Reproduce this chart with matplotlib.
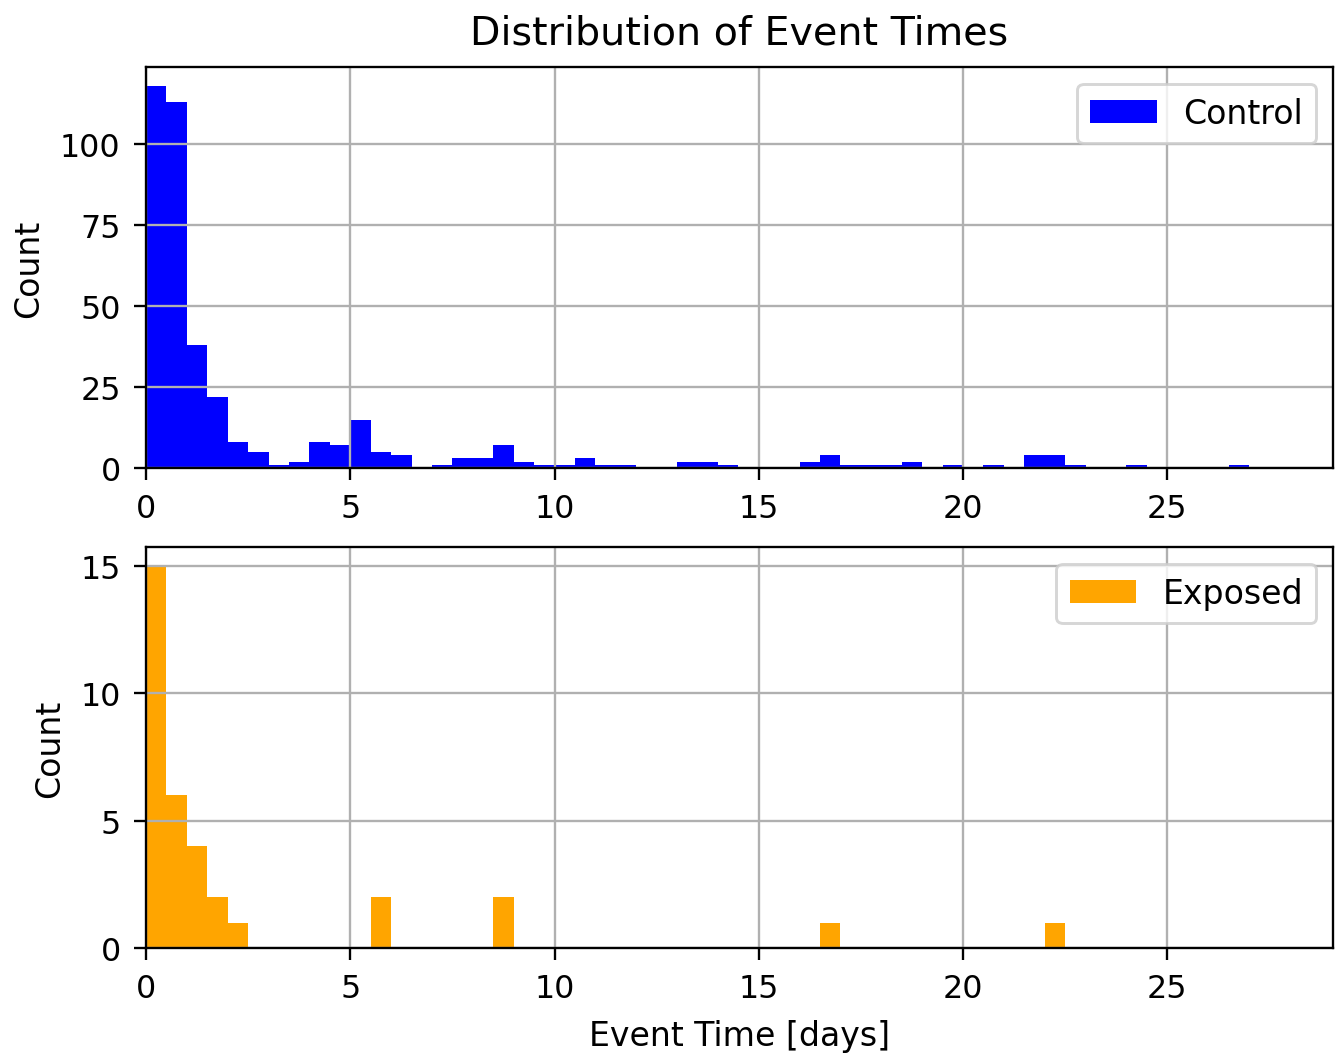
import numpy as np
import matplotlib
matplotlib.use("Agg")
import matplotlib.pyplot as plt

bin_width = 0.5
control_counts = [118, 113, 38, 22, 8, 5, 1, 2, 8, 7,
                  15, 5, 4, 0, 1, 3, 3, 7, 2, 1,
                  1, 3, 1, 1, 0, 0, 2, 2, 1, 0,
                  0, 0, 2, 4, 1, 1, 1, 2, 0, 1,
                  0, 1, 0, 4, 4, 1, 0, 0, 1, 0,
                  0, 0, 0, 1]
exposed_counts = [15, 6, 4, 2, 1, 0, 0, 0, 0, 0,
                  0, 2, 0, 0, 0, 0, 0, 2, 0, 0,
                  0, 0, 0, 0, 0, 0, 0, 0, 0, 0,
                  0, 0, 0, 1, 0, 0, 0, 0, 0, 0,
                  0, 0, 0, 0, 1, 0, 0, 0, 0, 0,
                  0, 0, 0, 0]
series_labels = ["Control", "Exposed"]
series_colors = ["blue", "orange"]
top_yticks = [0, 25, 50, 75, 100]
bottom_yticks = [0, 5, 10, 15]
xticks = [0, 5, 10, 15, 20, 25]

edges = np.arange(len(control_counts) + 1) * bin_width
centers = (edges[:-1] + edges[1:]) / 2

fig = plt.figure(figsize=(6.4, 5.04), dpi=209.7)
ax1 = fig.add_axes([0.1088, 0.5563, 0.8845, 0.3794])
ax2 = fig.add_axes([0.1088, 0.1022, 0.8845, 0.3794])

for ax, counts, lab, col, yt in [(ax1, control_counts, series_labels[0], series_colors[0], top_yticks),
                                  (ax2, exposed_counts, series_labels[1], series_colors[1], bottom_yticks)]:
    ax.hist(centers, bins=edges, weights=counts, color=col, label=lab)
    ax.set_xlim(0, 29.06)
    ax.set_xticks(xticks)
    ax.set_yticks(yt)
    ax.tick_params(labelsize=10.9, length=4.2, pad=4.5)
    ax.grid(True)
    ax.set_ylabel("Count", fontsize=11.4, labelpad=5)
    ax.legend(loc="upper right", fontsize=11.4)

ax1.set_title("Distribution of Event Times", fontsize=13.6, pad=8)
ax2.set_xlabel("Event Time [days]", fontsize=11.4, labelpad=5)

fig.savefig("out.png", dpi=209.7)
